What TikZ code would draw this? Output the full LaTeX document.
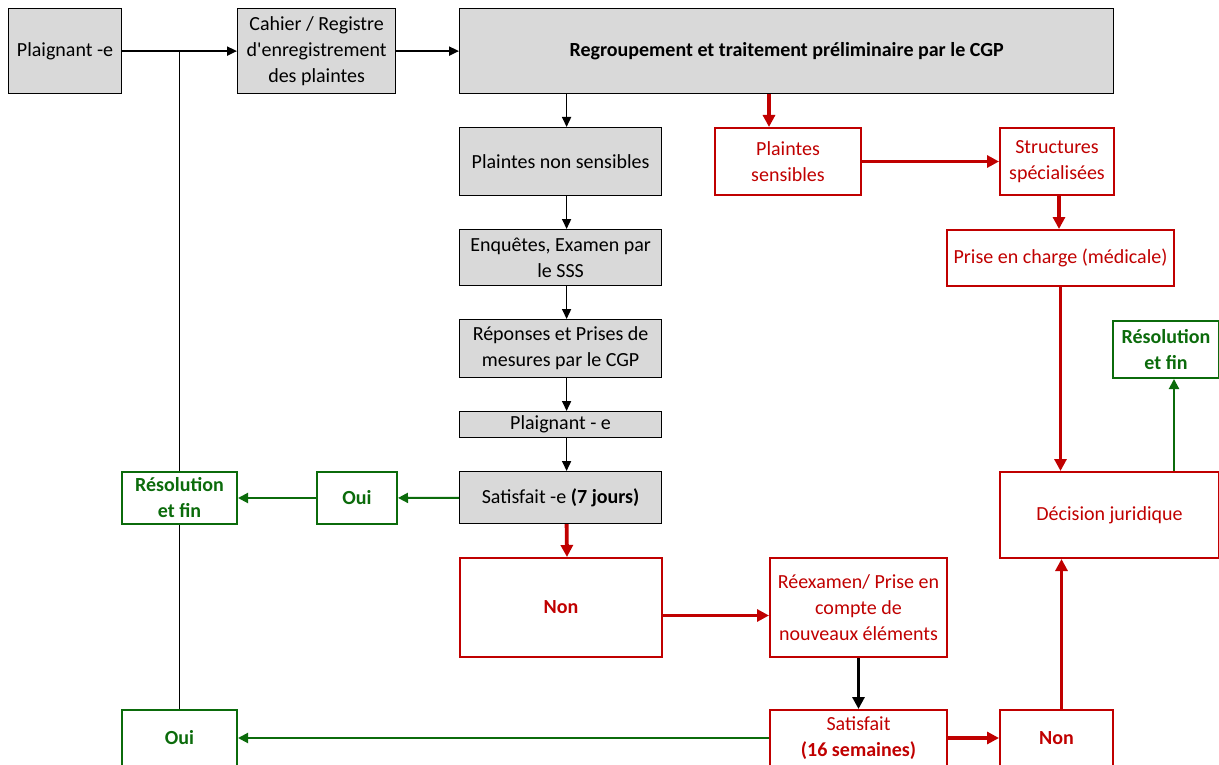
\documentclass[tikz,border=0pt]{standalone}
\usepackage{fontspec}
\setmainfont{Carlito}
\usetikzlibrary{arrows.meta,positioning}
\definecolor{boxgray}{HTML}{D9D9D9}
\definecolor{darkred}{HTML}{C00000}
\definecolor{darkgreen}{HTML}{0B6B0B}
\tikzset{
  base box/.style={rectangle,anchor=north west,align=center,inner sep=2pt,font=\fontsize{20}{26}\selectfont},
  gray box/.style={base box,draw,fill=boxgray,line width=1.2pt},
  red box/.style={base box,draw=darkred,text=darkred,line width=2pt},
  green box/.style={base box,draw=darkgreen,text=darkgreen,line width=2pt,font=\fontsize{20}{26}\selectfont\bfseries},
  flow arrow/.style={-{Triangle[length=10pt,width=9pt]},line width=1.6pt},
  bold arrow/.style={-{Triangle[length=12pt,width=12pt]},line width=3.8pt},
  red arrow/.style={bold arrow,darkred},
  green arrow/.style={-{Triangle[length=10pt,width=10pt]},line width=2pt,darkgreen},
  plain line/.style={line width=1.2pt},
}
\begin{document}
\begin{tikzpicture}[x=1pt,y=-1pt]
  \useasboundingbox (0,0) rectangle (1219,765);
  % main column
  \node[gray box,minimum width=113pt,minimum height=85pt] (plaig) at (8,8) {Plaignant -e};
  \node[gray box,minimum width=158pt,minimum height=85pt] (cahier) at (237,8) {Cahier / Registre\\d\textquotesingle enregistrement\\des plaintes};
  \node[gray box,minimum width=654pt,minimum height=85pt,font=\fontsize{20}{26}\selectfont\bfseries] (regr) at (459,8) {Regroupement et traitement préliminaire par le CGP};
  \node[gray box,minimum width=202pt,minimum height=68pt] (nonsens) at (459,127) {Plaintes non sensibles};
  \node[gray box,minimum width=202pt,minimum height=56pt] (enq) at (459,229) {Enquêtes, Examen par\\le SSS};
  \node[gray box,minimum width=202pt,minimum height=58pt] (rep) at (459,319) {Réponses et Prises de\\mesures par le CGP};
  \node[gray box,minimum width=202pt,minimum height=26pt] (plaig2) at (459,411) {Plaignant - e};
  \node[gray box,minimum width=202pt,minimum height=52pt] (sat1) at (459,471) {Satisfait -e \textbf{(7 jours)}};
  \node[red box,minimum width=202pt,minimum height=99pt,font=\fontsize{20}{26}\selectfont\bfseries] (non1) at (459,557) {Non};
  % sensitive branch
  \node[red box,minimum width=146pt,minimum height=67pt] (sens) at (714,127) {Plaintes\\sensibles};
  \node[red box,minimum width=114pt,minimum height=67pt] (struct) at (999,127) {Structures\\spécialisées};
  \node[red box,minimum width=227pt,minimum height=56pt] (pec) at (946,229) {Prise en charge (médicale)};
  \node[red box,minimum width=219pt,minimum height=86pt] (dec) at (999,471) {Décision juridique};
  \node[green box,minimum width=106pt,minimum height=57pt] (res2) at (1112,320) {Résolution\\et fin};
  % outcomes
  \node[green box,minimum width=115pt,minimum height=52pt] (res1) at (121,471) {Résolution\\et fin};
  \node[green box,minimum width=80pt,minimum height=52pt] (oui1) at (316,471) {Oui};
  \node[green box,minimum width=115pt,minimum height=56pt] (oui2) at (121,709) {Oui};
  \node[red box,minimum width=177pt,minimum height=99pt] (reex) at (769,557) {Réexamen/ Prise en\\compte de\\nouveaux éléments};
  \node[red box,minimum width=177pt,minimum height=56pt] (sat2) at (769,709) {Satisfait\\\textbf{(16 semaines)}};
  \node[red box,minimum width=113pt,minimum height=56pt,font=\fontsize{20}{26}\selectfont\bfseries] (non2) at (999,709) {Non};
  % connectors
  \draw[flow arrow,line width=2pt] (plaig) -- (cahier);
  \draw[flow arrow,line width=2pt] (cahier) -- (regr.west |- cahier.east);
  \draw[plain line] (oui2.north) -- (res1.south);
  \draw[plain line] (res1.north) -- (res1.north |- plaig.east);
  \draw[flow arrow] ([xshift=6pt]nonsens.north |- regr.south) -- ([xshift=6pt]nonsens.north);
  \draw[flow arrow] ([xshift=6pt]nonsens.south) -- ([xshift=6pt]enq.north);
  \draw[flow arrow] ([xshift=6pt]enq.south) -- ([xshift=6pt]rep.north);
  \draw[flow arrow] ([xshift=6pt]rep.south) -- ([xshift=6pt]plaig2.north);
  \draw[flow arrow] ([xshift=6pt]plaig2.south) -- ([xshift=6pt]sat1.north);
  \draw[red arrow] ([xshift=6pt]sat1.south) -- ([xshift=6pt]non1.north);
  \draw[green arrow] (sat1) -- (oui1);
  \draw[green arrow] (oui1) -- (res1);
  \draw[red arrow] ([xshift=-19pt]sens.north |- regr.south) -- ([xshift=-19pt]sens.north);
  \draw[red arrow] (sens) -- (struct);
  \draw[red arrow] ([xshift=2pt]struct.south) -- ([xshift=2pt]struct.south |- pec.north);
  \draw[red arrow] (pec.south) -- (pec.south |- dec.north);
  \draw[green arrow] ([xshift=8pt]res2.south |- dec.north) -- ([xshift=8pt]res2.south);
  \draw[red arrow] ([yshift=-8pt]non1.east) -- ([yshift=-8pt]reex.west);
  \draw[bold arrow,line width=3pt] (reex) -- (sat2);
  \draw[green arrow] (sat2) -- (oui2);
  \draw[red arrow] (sat2) -- (non2);
  \draw[red arrow] ([xshift=5pt]non2.north) -- ([xshift=5pt]non2.north |- dec.south);
\end{tikzpicture}
\end{document}
